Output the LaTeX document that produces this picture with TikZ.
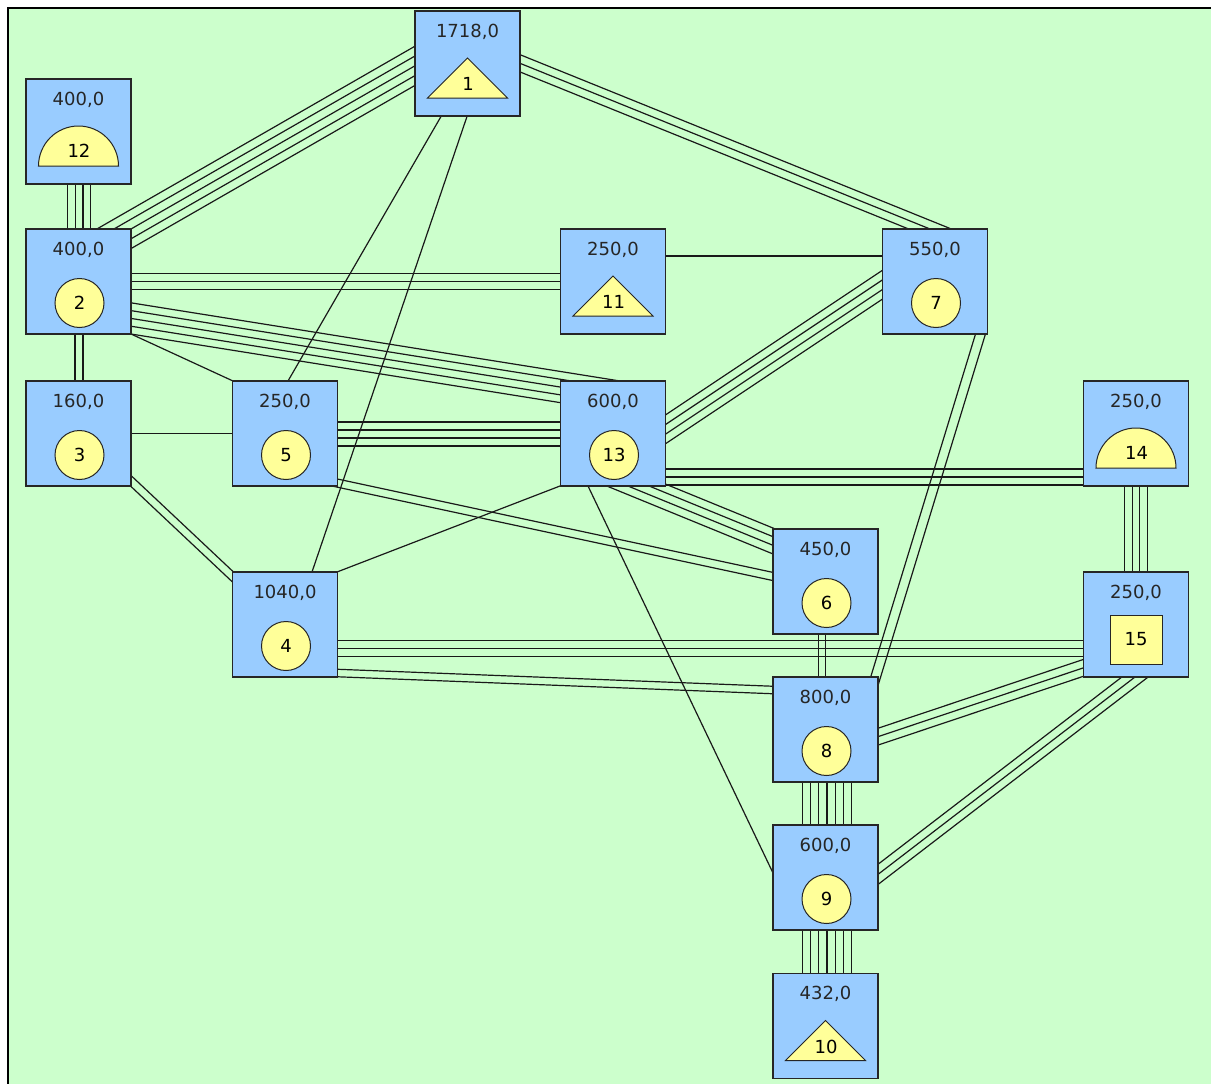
\documentclass[tikz,border=0pt]{standalone}
\usepackage{fontspec}
\setmainfont{DejaVu Sans}
\usetikzlibrary{calc}
\definecolor{bggreen}{HTML}{CCFFCC}
\definecolor{boxblue}{HTML}{99CCFF}
\definecolor{symyellow}{HTML}{FFFF99}
\pgfdeclarelayer{bottom}
\pgfdeclarelayer{wires}
\pgfsetlayers{bottom,wires,main}
\tikzset{
  box/.style={draw=black!85, line width=1.6pt, fill=boxblue, minimum width=105pt, minimum height=105pt, inner sep=0pt, outer sep=0pt},
  lbl/.style={font=\fontsize{18}{18}\selectfont, inner sep=0pt, text=black!85, anchor=base},
  circ/.style={circle, draw=black!85, line width=1pt, fill=symyellow, minimum size=49pt, inner sep=0pt, font=\fontsize{18}{18}\selectfont},
  sqr/.style={rectangle, draw=black!85, line width=1pt, fill=symyellow, minimum width=52pt, minimum height=49pt, inner sep=0pt, font=\fontsize{18}{18}\selectfont},
  sym/.style={draw=black!85, line width=1pt, fill=symyellow},
  num/.style={font=\fontsize{18}{18}\selectfont, inner sep=0pt, anchor=base},
  wire/.style={line width=1.2pt, black!90},
}
% n lines, spacing, end P, end Q, extension at P, extension at Q
\newcommand\bund[6]{%
  \coordinate (wp) at #3;
  \coordinate (wq) at #4;
  \coordinate (wpe) at ($(wp)!-#5pt!(wq)$);
  \coordinate (wqe) at ($(wq)!-#6pt!(wp)$);
  \foreach \k in {1,...,#1}{%
    \pgfmathsetmacro\off{(\k-(#1+1)/2)*#2}%
    \draw[wire] ($(wpe)!\off pt!90:(wqe)$) -- ($(wqe)!\off pt!-90:(wpe)$);
  }%
}
\newcommand\mybox[3]{%
  \node[box] (#1) at (#2) {};
  \node[lbl] (#1l) at ([shift={(0,-26.5)}]#1.center) {#3};
}
\newcommand\circsym[2]{%
  \node[circ] (#1s) at ([shift={(1,21.5)}]#1.center) {#2};
}
\newcommand\trisym[2]{%
  \draw[sym] ([shift={(0,-5.5)}]#1.center) -- ([shift={(40,34.5)}]#1.center) -- ([shift={(-40,34.5)}]#1.center) -- cycle;
  \node[num] (#1s) at ([shift={(0.5,27)}]#1.center) {#2};
}
\newcommand\domesym[2]{%
  \draw[sym] ([shift={(-40,34.5)}]#1.center) arc[start angle=180, end angle=0, radius=40pt] -- cycle;
  \node[num] (#1s) at ([shift={(0.5,26)}]#1.center) {#2};
}
\begin{document}
\begin{tikzpicture}[x=1pt,y=-1pt]
\useasboundingbox (0,0) rectangle (1211,1084);
\begin{pgfonlayer}{bottom}
  \fill[white] (0,0) rectangle (1211,1084);
  \fill[bggreen] (7.5,7.5) rectangle (1211,1084);
  \draw[line width=2pt, black] (7.5,1084) -- (7.5,7.5) -- (1211,7.5);
\end{pgfonlayer}

\mybox{b1}{467.5,63.5}{1718,0}
\mybox{b12}{78.5,131.5}{400,0}
\mybox{b2}{78.5,281.5}{400,0}
\mybox{b11}{613,281.5}{250,0}
\mybox{b7}{935,281.5}{550,0}
\mybox{b3}{78.5,433.5}{160,0}
\mybox{b5}{285,433.5}{250,0}
\mybox{b13}{613,433.5}{600,0}
\mybox{b14}{1136,433.5}{250,0}
\mybox{b6}{825.5,581.5}{450,0}
\mybox{b4}{285,624.5}{1040,0}
\mybox{b15}{1136,624.5}{250,0}
\mybox{b8}{825.5,729.5}{800,0}
\mybox{b9}{825.5,877.5}{600,0}
\mybox{b10}{825.5,1026}{432,0}

\trisym{b1}{1}
\domesym{b12}{12}
\circsym{b2}{2}
\trisym{b11}{11}
\circsym{b7}{7}
\circsym{b3}{3}
\circsym{b5}{5}
\circsym{b13}{13}
\domesym{b14}{14}
\circsym{b6}{6}
\circsym{b4}{4}
\node[sqr] (b15s) at ([shift={(0,15)}]b15.center) {15};
\circsym{b8}{8}
\circsym{b9}{9}
\trisym{b10}{10}

\begin{pgfonlayer}{wires}
\bund{5}{8.5}{([shift={(-52,2)}]b1.center)}{([shift={(52.5,-52.5)}]b2.center)}{40}{40}
\bund{3}{8}{([shift={(53,0)}]b1.center)}{([shift={(-5,-52.5)}]b7.center)}{40}{40}
\bund{1}{8}{([shift={(-26.5,53)}]b1.center)}{([shift={(3,-52.5)}]b5.center)}{40}{40}
\bund{1}{8}{([shift={(-0.5,53)}]b1.center)}{([shift={(27,-52.5)}]b4.center)}{40}{40}
\bund{4}{7.8}{([shift={(0.5,52.5)}]b12.center)}{([shift={(0.5,-52.5)}]b2.center)}{40}{40}
\bund{3}{8}{([shift={(52.5,0)}]b2.center)}{([shift={(-52.5,0)}]b11.center)}{40}{40}
\bund{5}{7.7}{([shift={(53,37)}]b2.center)}{([shift={(-53,-46.5)}]b13.center)}{40}{95}
\bund{1}{8}{([shift={(52.5,52.5)}]b2.center)}{([shift={(-52,-52.5)}]b5.center)}{40}{40}
\bund{2}{8}{([shift={(0.5,52.5)}]b2.center)}{([shift={(0.5,-52.5)}]b3.center)}{40}{40}
\bund{1}{8}{([shift={(52.5,-25.5)}]b11.center)}{([shift={(-52.5,-25.5)}]b7.center)}{40}{40}
\bund{4}{8}{([shift={(-53,3.5)}]b7.center)}{([shift={(53,-4.5)}]b13.center)}{40}{40}
\bund{2}{9.5}{([shift={(45.5,52.5)}]b7.center)}{([shift={(50,-52)}]b8.center)}{3}{40}
\bund{1}{8}{([shift={(52.5,0)}]b3.center)}{([shift={(-52.5,0)}]b5.center)}{40}{40}
\bund{2}{8}{([shift={(52.5,47.5)}]b3.center)}{([shift={(-52,-47.5)}]b4.center)}{40}{40}
\bund{4}{8}{([shift={(52,0.5)}]b5.center)}{([shift={(-53,0.5)}]b13.center)}{40}{40}
\bund{2}{8}{([shift={(52,49.5)}]b5.center)}{([shift={(-52.5,-5)}]b6.center)}{40}{40}
\bund{3}{8}{([shift={(53,43.5)}]b13.center)}{([shift={(-53,43.5)}]b14.center)}{40}{40}
\bund{1}{8}{([shift={(-53,52.5)}]b13.center)}{([shift={(52,-52.5)}]b4.center)}{40}{40}
\bund{4}{8}{([shift={(25.5,52.5)}]b13.center)}{([shift={(-52.5,-40.5)}]b6.center)}{40}{40}
\bund{1}{8}{([shift={(-25,52.5)}]b13.center)}{([shift={(-52.5,-4.5)}]b9.center)}{40}{40}
\bund{4}{7.7}{([shift={(0,52.5)}]b14.center)}{([shift={(0,-52.5)}]b15.center)}{40}{40}
\bund{3}{8.3}{([shift={(52,24)}]b4.center)}{([shift={(-53,24)}]b15.center)}{40}{40}
\bund{2}{7.5}{([shift={(52,48.5)}]b4.center)}{([shift={(-52.5,-39.5)}]b8.center)}{40}{40}
\bund{2}{7.5}{([shift={(-3.5,52.5)}]b6.center)}{([shift={(-3.5,-52.5)}]b8.center)}{40}{40}
\bund{3}{8}{([shift={(-53,43.5)}]b15.center)}{([shift={(53,7)}]b8.center)}{40}{40}
\bund{3}{8}{([shift={(-1,52.5)}]b15.center)}{([shift={(53,-3.5)}]b9.center)}{40}{40}
\bund{7}{8.2}{([shift={(1.5,52.5)}]b8.center)}{([shift={(1.5,-52.5)}]b9.center)}{40}{40}
\bund{7}{8.2}{([shift={(1.5,52.5)}]b9.center)}{([shift={(1.5,-52.5)}]b10.center)}{40}{40}
\end{pgfonlayer}
\end{tikzpicture}
\end{document}
